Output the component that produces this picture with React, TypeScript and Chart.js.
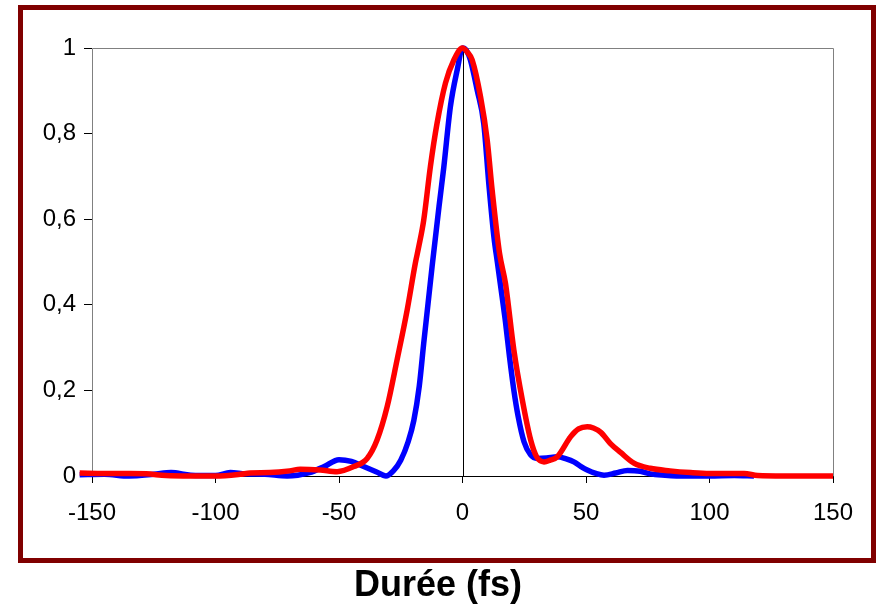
import React, { useEffect, useRef } from "react";
import { Chart, registerables } from "chart.js";

Chart.register(...registerables);

const blueX = [-155, -145, -135, -125, -118, -110, -100, -94, -88, -80, -71, -62, -56, -50, -45, -40, -35, -31, -28, -25, -22, -19.7, -17.5, -15.7, -12.3, -9.5, -7.6, -4.9, -2.1, 0, 1.5, 3.2, 6, 8.6, 10.7, 12.7, 14.1, 16, 17.4, 19, 20.8, 22.5, 24.9, 27.5, 30.3, 34, 38.4, 42, 45.1, 48, 50.5, 54, 57.3, 62, 66.8, 72, 76, 82, 90, 100, 110, 118];
const blueY = [0.003, 0.004, 0.0, 0.004, 0.008, 0.002, 0.001, 0.008, 0.005, 0.004, 0.0, 0.008, 0.022, 0.038, 0.034, 0.022, 0.01, 0.0, 0.012, 0.037, 0.08, 0.13, 0.21, 0.31, 0.49, 0.63, 0.72, 0.863, 0.95, 1.0, 0.995, 0.972, 0.9, 0.824, 0.68, 0.56, 0.5, 0.42, 0.36, 0.28, 0.2, 0.14, 0.08, 0.05, 0.041, 0.042, 0.045, 0.04, 0.033, 0.022, 0.014, 0.006, 0.002, 0.007, 0.013, 0.011, 0.005, 0.002, 0.0, 0.0, 0.001, 0.0];

const redX = [-155, -145, -135, -128, -120, -110, -100, -90, -86, -78, -70, -65.7, -57.6, -50.8, -44, -38.6, -34.6, -30.5, -26.5, -22.4, -19.1, -17.7, -15.7, -13, -10.3, -6.9, -3.5, 0, 2, 3.9, 7.3, 10, 12, 15, 17.4, 20.8, 24.2, 27.6, 30, 33, 35.5, 38.4, 43.8, 47, 50.5, 53, 56, 60, 64, 69.4, 76, 84, 92.4, 100, 108, 114, 119.5, 130, 140, 150, 156];
const redY = [0.007, 0.006, 0.006, 0.005, 0.001, 0.0, 0.0, 0.004, 0.007, 0.008, 0.012, 0.016, 0.014, 0.01, 0.022, 0.041, 0.084, 0.162, 0.271, 0.388, 0.497, 0.536, 0.598, 0.723, 0.824, 0.918, 0.972, 1.0, 0.99, 0.972, 0.886, 0.785, 0.668, 0.52, 0.45, 0.294, 0.178, 0.084, 0.045, 0.033, 0.037, 0.045, 0.092, 0.11, 0.115, 0.112, 0.102, 0.075, 0.055, 0.03, 0.018, 0.012, 0.008, 0.006, 0.006, 0.006, 0.001, 0.0, 0.0, 0.0, 0.0];

const xTickLabels = ["-150", "-100", "-50", "0", "50", "100", "150"];
const yTickLabels = ["0", "0,2", "0,4", "0,6", "0,8", "1"];
const titleText = "Durée (fs)";

const FONT = "'Liberation Sans', Arial, sans-serif";

const framePlugin = {
  id: "frame",
  beforeDatasetsDraw(chart: any) {
    const { ctx, chartArea } = chart;
    const xs = chart.scales.x;
    const ys = chart.scales.y;
    ctx.save();
    ctx.lineWidth = 1;
    ctx.strokeStyle = "#808080";
    const l = Math.round(chartArea.left) + 0.5;
    const t = Math.round(chartArea.top) + 0.5;
    const r = Math.round(chartArea.right) + 0.5;
    const b = Math.round(chartArea.bottom) + 0.5;
    ctx.beginPath();
    ctx.moveTo(l, b);
    ctx.lineTo(l, t);
    ctx.lineTo(r, t);
    ctx.lineTo(r, b);
    ctx.stroke();
    ctx.strokeStyle = "#000000";
    const x0 = Math.round(xs.getPixelForValue(0)) + 0.5;
    ctx.beginPath();
    ctx.moveTo(x0, t);
    ctx.lineTo(x0, b);
    ctx.stroke();
    const y0 = Math.round(ys.getPixelForValue(0)) + 0.5;
    ctx.beginPath();
    ctx.moveTo(l, y0);
    ctx.lineTo(r, y0);
    ctx.stroke();
    ctx.restore();
  },
  afterDraw(chart: any) {
    const { ctx } = chart;
    ctx.save();
    ctx.fillStyle = "#000";
    ctx.font = `bold 36px ${FONT}`;
    ctx.textAlign = "center";
    ctx.textBaseline = "middle";
    ctx.fillText(titleText, 438, 586);
    ctx.restore();
  },
};

export default function App() {
  const ref = useRef<HTMLCanvasElement | null>(null);
  useEffect(() => {
    if (!ref.current) return;
    const bluePts = blueX.map((x, i) => ({ x, y: blueY[i] }));
    const redPts = redX.map((x, i) => ({ x, y: redY[i] }));
    const chart = new Chart(ref.current, {
      type: "line",
      data: {
        datasets: [
          {
            label: "red",
            data: redPts,
            borderColor: "#FF0000",
            borderWidth: 5.5,
            pointRadius: 0,
            cubicInterpolationMode: "monotone",
            clip: false,
            order: 0,
          },
          {
            label: "blue",
            data: bluePts,
            borderColor: "#0000FF",
            borderWidth: 5.5,
            pointRadius: 0,
            cubicInterpolationMode: "monotone",
            clip: false,
            order: 1,
          },
        ],
      },
      options: {
        animation: false,
        responsive: false,
        maintainAspectRatio: false,
        layout: { padding: { top: 48, right: 44, left: 0, bottom: 42 } },
        plugins: {
          legend: { display: false },
          tooltip: { enabled: false },
          title: { display: false },
        },
        scales: {
          x: {
            type: "linear",
            min: -150,
            max: 150,
            afterFit: (s: any) => {
              s.height = 88;
            },
            afterBuildTicks: (s: any) => {
              s.ticks = xTickLabels.map((t) => ({ value: Number(t) }));
            },
            ticks: {
              callback: (_v: any, i: number) => xTickLabels[i],
              color: "#000",
              font: { family: FONT, size: 24 },
              padding: 16,
              maxRotation: 0,
              autoSkip: false,
            },
            grid: { drawOnChartArea: false, tickLength: 7, color: "#000", tickColor: "#000" },
            border: { display: false },
          },
          y: {
            type: "linear",
            min: 0,
            max: 1,
            afterFit: (s: any) => {
              s.width = 92;
            },
            afterBuildTicks: (s: any) => {
              s.ticks = yTickLabels.map((_t, i) => ({ value: i * 0.2 }));
            },
            ticks: {
              callback: (_v: any, i: number) => yTickLabels[i],
              color: "#000",
              font: { family: FONT, size: 24 },
              padding: 8,
              autoSkip: false,
            },
            grid: { drawOnChartArea: false, tickLength: 8, color: "#000", tickColor: "#000" },
            border: { display: false },
          },
        },
      },
      plugins: [framePlugin],
    } as any);
    return () => chart.destroy();
  }, []);

  return (
    <div style={{ position: "fixed", left: 0, top: 0, width: 877, height: 606, background: "#fff" }}>
      <canvas ref={ref} width={877} height={606} style={{ position: "absolute", left: 0, top: 0, width: 877, height: 606 }} />
      <div
        style={{
          position: "absolute",
          left: 18,
          top: 5,
          width: 858,
          height: 558,
          border: "5px solid #800000",
          boxSizing: "border-box",
          pointerEvents: "none",
        }}
      />
    </div>
  );
}
